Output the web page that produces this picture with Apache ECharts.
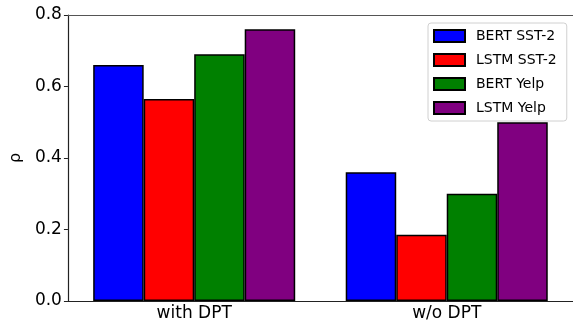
<!DOCTYPE html>
<html><head><meta charset="utf-8">
<script src="https://cdn.jsdelivr.net/npm/echarts@6/dist/echarts.min.js"></script>
<style>html,body{margin:0;padding:0;background:#fff}#c{width:573px;height:324px}</style>
</head><body><div id="c"></div>
<script>
const categories = ['with DPT', 'w/o DPT'];
const seriesNames = ['BERT SST-2', 'LSTM SST-2', 'BERT Yelp', 'LSTM Yelp'];
const bertSST2 = [0.66, 0.36];
const lstmSST2 = [0.565, 0.185];
const bertYelp = [0.69, 0.30];
const lstmYelp = [0.76, 0.50];
const colors = ['#0000ff', '#ff0000', '#008000', '#800080'];
const values = [bertSST2, lstmSST2, bertYelp, lstmYelp];
const FONT = 'DejaVu Sans';

const chart = echarts.init(document.getElementById('c'), null, {renderer: 'canvas'});
chart.setOption({
  animation: false,
  textStyle: {fontFamily: FONT},
  grid: {left: 66, right: -2, top: 15, bottom: 23, containLabel: false},
  legend: {
    orient: 'vertical', left: 428, top: 23,
    itemWidth: 31, itemHeight: 12, itemGap: 10,
    padding: [6, 10, 6, 5],
    backgroundColor: '#fff', borderColor: '#d0d0d0', borderWidth: 1, borderRadius: 3,
    textStyle: {fontSize: 14, color: '#000', fontFamily: FONT, padding: [0, 0, 0, 6]},
    icon: 'rect',
    data: seriesNames
  },
  xAxis: [{
    type: 'category', data: categories, position: 'bottom',
    axisLine: {lineStyle: {color: '#222', width: 1.2}},
    axisTick: {alignWithLabel: true, length: 4, lineStyle: {color: '#222'}},
    axisLabel: {fontSize: 17, color: '#000', margin: 4, fontFamily: FONT}
  }, {
    type: 'category', data: categories, position: 'top',
    axisLine: {show: true, lineStyle: {color: '#555', width: 1.2}},
    axisTick: {show: false}, axisLabel: {show: false}
  }],
  yAxis: {
    type: 'value', min: 0, max: 0.8, interval: 0.2,
    name: 'ρ', nameLocation: 'middle', nameGap: 38, nameRotate: 90,
    nameTextStyle: {fontSize: 16, color: '#000', fontFamily: FONT},
    axisLine: {show: true, lineStyle: {color: '#222', width: 1.2}},
    axisTick: {show: true, length: 4, lineStyle: {color: '#222'}},
    splitLine: {show: false},
    axisLabel: {fontSize: 17, color: '#000', margin: 6, fontFamily: FONT,
      formatter: v => v.toFixed(1)}
  },
  series: seriesNames.map((n, i) => ({
    name: n, type: 'bar', data: values[i], xAxisIndex: 0,
    barGap: '0%', barCategoryGap: '20%',
    itemStyle: {color: colors[i], borderColor: '#000', borderWidth: 1.5}
  }))
});
</script></body></html>
